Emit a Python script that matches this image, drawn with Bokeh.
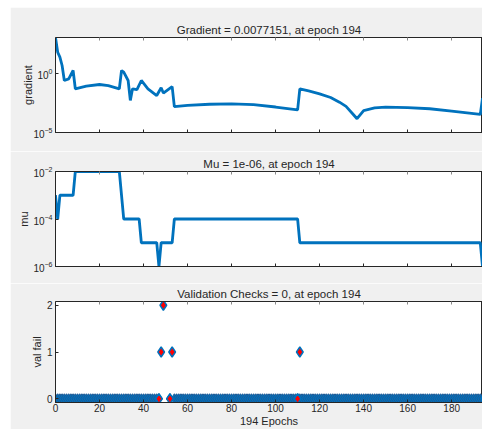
from bokeh.plotting import figure
from bokeh.layouts import column
from bokeh.models import Range1d, FixedTicker, LinearAxis
from bokeh.embed import file_html
from bokeh.resources import INLINE

# ---------------- data ----------------
grad_epochs = [0, 1, 2, 3, 4, 6, 8, 9, 14, 20, 24, 29, 30, 31, 33, 34, 35, 37, 39, 42,
               46, 48, 49, 53, 54, 60, 70, 80, 90, 100, 110, 111, 115, 120, 125, 129,
               132, 135, 137, 140, 145, 150, 160, 170, 180, 193, 194]
grad_values = [1000, 57, 22, 4.4, 0.24, 0.33, 1.66, 0.048, 0.079, 0.11, 0.089, 0.048,
               1.66, 1.2, 0.24, 0.005, 0.048, 0.04, 0.24, 0.048,
               0.013, 0.059, 0.021, 0.074, 1.5e-3, 1.9e-3, 2.4e-3, 2.6e-3, 2.2e-3, 1.4e-3,
               8.1e-4, 0.048, 0.032, 0.018, 8.9e-3, 3.6e-3,
               1.6e-3, 3.8e-4, 1.45e-4, 7.1e-4, 1.2e-3, 1.35e-3, 1.26e-3, 1.0e-3, 6.3e-4,
               3.3e-4, 0.0077151]

mu_epochs = [0, 1, 2, 8, 9, 29, 31, 38, 39, 46, 47, 48, 53, 54, 110, 111, 193, 194]
mu_values = [1e-3, 1e-4, 1e-3, 1e-3, 1e-2, 1e-2, 1e-4, 1e-4, 1e-5, 1e-5, 1e-6, 1e-5,
             1e-5, 1e-4, 1e-4, 1e-5, 1e-5, 1e-6]

n_epochs = 194
val_gap_epochs = [48, 49, 50, 51, 53]
val_zero_epochs = [e for e in range(n_epochs + 1) if e not in val_gap_epochs]
val_zero_values = [0] * len(val_zero_epochs)
val_red_epochs = [47, 48, 49, 52, 53, 110, 111]
val_red_values = [0, 1, 2, 0, 1, 0, 1]

x_ticks = [0, 20, 40, 60, 80, 100, 120, 140, 160, 180]

titles = ["Gradient = 0.0077151, at epoch 194",
          "Mu = 1e-06, at epoch 194",
          "Validation Checks = 0, at epoch 194"]

# ---------------- styling ----------------
BLUE = "#0072BD"
GRAY_BG = "#f0f0f0"
AX = "#262626"
FONT = "Liberation Sans"
W = 472


def style_axis(ax, label_standoff):
    ax.axis_line_color = AX
    ax.major_tick_in = 3
    ax.major_tick_out = 0
    ax.minor_tick_in = 0
    ax.minor_tick_out = 0
    ax.major_tick_line_color = AX
    ax.major_label_text_font = FONT
    ax.major_label_text_font_size = "10px"
    ax.major_label_text_color = AX
    ax.axis_label_text_font = FONT
    ax.axis_label_text_font_size = "11px"
    ax.axis_label_text_font_style = "normal"
    ax.axis_label_text_color = AX
    ax.major_label_standoff = 3
    ax.axis_label_standoff = label_standoff


def make_fig(title, height, top, bottom, y_type="linear", y_range=None,
             show_x_labels=False, y_label_standoff=0):
    p = figure(width=W, height=height, x_range=Range1d(0, n_epochs),
               y_range=y_range, y_axis_type=y_type,
               min_border_left=45, min_border_right=0, min_border_top=top,
               min_border_bottom=bottom, toolbar_location=None, output_backend="svg",
               background_fill_color="white", border_fill_color=GRAY_BG,
               outline_line_color=AX, outline_line_width=1)
    p.title.text = title
    p.title.align = "center"
    p.title.text_font = FONT
    p.title.text_font_size = "11.5px"
    p.title.text_font_style = "normal"
    p.title.text_color = AX
    p.title.standoff = 4
    p.xgrid.visible = False
    p.ygrid.visible = False
    style_axis(p.below[0], 0)
    style_axis(p.left[0], y_label_standoff)
    p.below[0].ticker = FixedTicker(ticks=x_ticks)
    if not show_x_labels:
        p.below[0].major_label_overrides = {t: "" for t in x_ticks}
        p.below[0].major_label_standoff = 0
    top_ax = LinearAxis(ticker=FixedTicker(ticks=x_ticks),
                        major_label_overrides={t: "" for t in x_ticks},
                        major_label_standoff=0, major_tick_in=3, major_tick_out=0,
                        minor_tick_in=0, minor_tick_out=0, axis_line_color=AX,
                        major_tick_line_color="#888888")
    p.add_layout(top_ax, "above")
    return p


# Gradient panel
p1 = make_fig(titles[0], 144, 30, 19, y_type="log", y_range=Range1d(1e-5, 1e3),
              y_label_standoff=-4)
p1.left[0].ticker = FixedTicker(ticks=[1e-5, 1])
p1.left[0].axis_label = "gradient"
p1.line(grad_epochs, grad_values, line_color=BLUE, line_width=2.8)

# Mu panel
p2 = make_fig(titles[1], 132, 20, 17, y_type="log", y_range=Range1d(1e-6, 1e-2),
              y_label_standoff=0)
p2.left[0].ticker = FixedTicker(ticks=[1e-6, 1e-4, 1e-2])
p2.left[0].axis_label = "mu"
p2.line(mu_epochs, mu_values, line_color=BLUE, line_width=2.8)

# Validation panel
p3 = make_fig(titles[2], 146, 17, 24, y_range=Range1d(-0.08, 2.08),
              show_x_labels=True, y_label_standoff=1)
p3.left[0].ticker = FixedTicker(ticks=[0, 1, 2])
p3.left[0].axis_label = "val fail"
p3.below[0].axis_label = "194 Epochs"
p3.below[0].major_label_standoff = 1
p3.below[0].axis_label_standoff = 0
p3.scatter(val_zero_epochs, val_zero_values, marker="diamond", size=10,
           fill_color=BLUE, line_color="#1d5a96", line_width=1)
p3.scatter(val_red_epochs, val_red_values, marker="diamond", size=10,
           fill_color="#ff0000", line_color=BLUE, line_width=1.5)

layout = column(p1, p2, p3, spacing=0, margin=(7, 0, 0, 10))
open("out.html", "w").write(file_html(layout, INLINE))
